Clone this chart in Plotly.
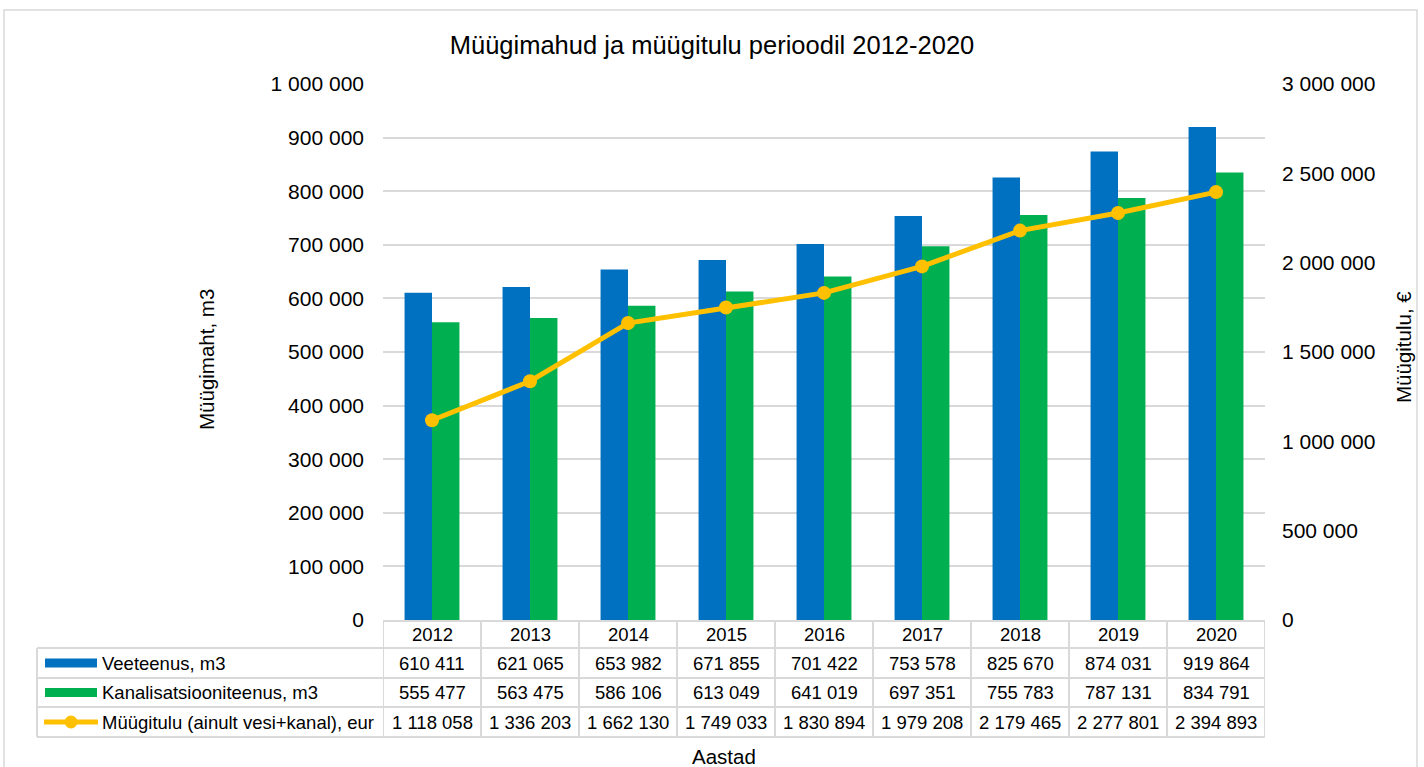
import plotly.graph_objects as go

years = ["2012", "2013", "2014", "2015", "2016", "2017", "2018", "2019", "2020"]
veeteenus = [610411, 621065, 653982, 671855, 701422, 753578, 825670, 874031, 919864]
kanal = [555477, 563475, 586106, 613049, 641019, 697351, 755783, 787131, 834791]
tulu = [1118058, 1336203, 1662130, 1749033, 1830894, 1979208, 2179465, 2277801, 2394893]

series_names = ["Veeteenus, m3", "Kanalisatsiooniteenus, m3", "Müügitulu (ainult vesi+kanal), eur"]
title = "Müügimahud ja müügitulu perioodil 2012-2020"
x_title = "Aastad"
y_title = "Müügimaht, m3"
y2_title = "Müügitulu, €"

BLUE = "#0070C0"
GREEN = "#00B050"
GOLD = "#FFC000"
GRID = "#D9D9D9"
FONT = "Liberation Sans, Arial, sans-serif"

W, H = 1424, 767
L, R, T, B = 383, 1265, 84, 620
PW, PH = R - L, B - T


def px(x):
    return (x - L) / PW


def py(y):
    return (B - y) / PH


fig = go.Figure()
fig.add_trace(go.Bar(x=years, y=veeteenus, name=series_names[0], marker_color=BLUE,
                     marker_line_width=0))
fig.add_trace(go.Bar(x=years, y=kanal, name=series_names[1], marker_color=GREEN,
                     marker_line_width=0))
fig.add_trace(go.Scatter(x=years, y=tulu, name=series_names[2], yaxis="y2",
                         mode="lines+markers", line=dict(color=GOLD, width=5),
                         marker=dict(color=GOLD, size=14)))

shapes = []
annotations = []
line_style = dict(color=GRID, width=2)
cell_font = dict(size=18.5, color="#000")

# table geometry (pixel rows)
row_y = [621, 648, 678, 707, 737]
n = len(years)
# horizontal lines
shapes.append(dict(type="line", xref="x", yref="paper", x0=-0.5, x1=n - 0.5,
                   y0=py(row_y[0]), y1=py(row_y[0]), line=line_style))
for ry in row_y[1:]:
    shapes.append(dict(type="line", xref="paper", yref="paper", x0=px(37), x1=px(L),
                       y0=py(ry), y1=py(ry), line=line_style))
    shapes.append(dict(type="line", xref="x", yref="paper", x0=-0.5, x1=n - 0.5,
                       y0=py(ry), y1=py(ry), line=line_style))
# vertical lines
shapes.append(dict(type="line", xref="paper", yref="paper", x0=px(37), x1=px(37),
                   y0=py(row_y[1]), y1=py(row_y[-1]), line=line_style))
for k in range(n + 1):
    shapes.append(dict(type="line", xref="x", yref="paper", x0=k - 0.5, x1=k - 0.5,
                       y0=py(row_y[0]), y1=py(row_y[-1]), line=line_style))

# header years
for i, yr in enumerate(years):
    annotations.append(dict(x=i, y=py((row_y[0] + row_y[1]) / 2), xref="x", yref="paper",
                            xanchor="center", yanchor="middle",
                            text=yr, showarrow=False, font=cell_font))

rows = [veeteenus, kanal, tulu]
for r, vals in enumerate(rows):
    cy = py((row_y[r + 1] + row_y[r + 2]) / 2)
    for i, v in enumerate(vals):
        annotations.append(dict(x=i, y=cy, xref="x", yref="paper",
                                xanchor="center", yanchor="middle",
                                text=f"{v:,}".replace(",", " "), showarrow=False,
                                font=cell_font))
    annotations.append(dict(x=px(100), y=cy, xref="paper", yref="paper", xanchor="left",
                            yanchor="middle", text=series_names[r], showarrow=False,
                            font=cell_font))

# legend keys
for r, col in enumerate([BLUE, GREEN]):
    cyp = (row_y[r + 1] + row_y[r + 2]) / 2
    shapes.append(dict(type="rect", xref="paper", yref="paper", x0=px(45), x1=px(97),
                       y0=py(cyp - 4.5), y1=py(cyp + 4.5), fillcolor=col, line_width=0))
cyp = (row_y[3] + row_y[4]) / 2
shapes.append(dict(type="line", xref="paper", yref="paper", x0=px(44), x1=px(98),
                   y0=py(cyp), y1=py(cyp), line=dict(color=GOLD, width=5)))
shapes.append(dict(type="circle", xref="paper", yref="paper", x0=px(64.5), x1=px(77.5),
                   y0=py(cyp + 6.5), y1=py(cyp - 6.5), fillcolor=GOLD, line_width=0))

# outer border
shapes.append(dict(type="rect", xref="paper", yref="paper", x0=px(4), x1=px(1417),
                   y0=py(775), y1=py(10), line=dict(color=GRID, width=1.5),
                   fillcolor="rgba(0,0,0,0)", layer="below"))

# axis titles
annotations.append(dict(x=px(724), y=py(756), xref="paper", yref="paper", text=x_title,
                        xanchor="center", yanchor="middle",
                        showarrow=False, font=dict(size=20.5, color="#000")))
annotations.append(dict(x=px(206), y=py(360), xref="paper", yref="paper", text=y_title,
                        xanchor="center", yanchor="middle",
                        textangle=-90, showarrow=False, font=dict(size=20.5, color="#000")))
annotations.append(dict(x=px(1404), y=py(347), xref="paper", yref="paper", text=y2_title,
                        xanchor="center", yanchor="middle",
                        textangle=-90, showarrow=False, font=dict(size=20.5, color="#000")))

fig.update_layout(
    width=W, height=H,
    margin=dict(l=L, r=W - R, t=T, b=H - B, pad=0),
    paper_bgcolor="white", plot_bgcolor="white",
    font=dict(family=FONT, color="#000"),
    separators=". ",
    title=dict(text=title, x=0.5, xref="container", xanchor="center",
               y=1 - 45 / H, yref="container", yanchor="middle",
               font=dict(size=25.5, color="#000")),
    showlegend=False,
    barmode="group", bargap=0.44, bargroupgap=0,
    xaxis=dict(type="category", showticklabels=False, showgrid=False, zeroline=False,
               showline=False, ticks="", range=[-0.5, n - 0.5]),
    yaxis=dict(range=[0, 1000000], dtick=100000, tickformat=",", showgrid=True,
               gridcolor=GRID, gridwidth=2, zeroline=False, showline=False,
               ticks="", ticklabelstandoff=18, tickfont=dict(size=21, color="#000")),
    yaxis2=dict(range=[0, 3000000], dtick=500000, tickformat=",", overlaying="y",
                side="right", showgrid=False, zeroline=False, showline=False,
                ticks="", ticklabelstandoff=16, tickfont=dict(size=21, color="#000")),
    shapes=shapes,
    annotations=annotations,
)

fig.write_html("out.html", config={"displayModeBar": False},
               post_script="document.body.style.margin='0';document.body.style.overflow='hidden';")
